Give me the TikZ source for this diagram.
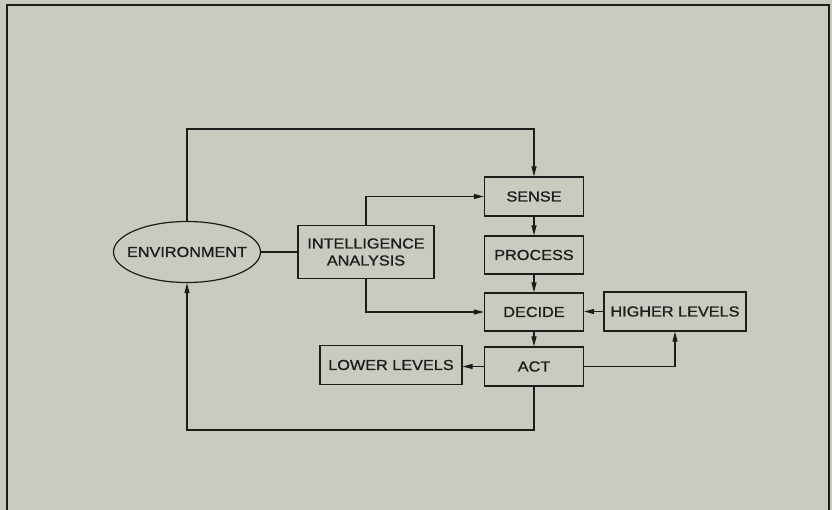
\documentclass[tikz,border=0pt]{standalone}
\usepackage{fontspec}
\setmainfont{Liberation Sans}[FakeStretch=1.12,FakeBold=1]
\usetikzlibrary{arrows.meta,shapes.geometric,calc}
\definecolor{paper}{RGB}{202,202,192}
\definecolor{ink}{RGB}{28,28,28}
\begin{document}
\begin{tikzpicture}[x=1pt,y=-1pt,
  every node/.style={font=\fontsize{14.5}{17}\selectfont, text=ink},
  box/.style={draw=ink, line width=1.2pt, rectangle, inner sep=0pt, align=center},
  oval/.style={draw=ink, line width=1.2pt, ellipse, inner sep=0pt, minimum width=147pt, minimum height=61pt},
  conn/.style={draw=ink, line width=1.1pt},
  arr/.style={conn, -{Triangle[length=10pt,width=5pt]}}]
\fill[paper] (0,0) rectangle (832,510);
\useasboundingbox (0,0) rectangle (832,510);
% frame
\draw[ink, line width=1.8pt] (7,512) -- (7,5) -- (829,5) -- (829,512);
% nodes
\node[oval] (env) at (187,252) {\makebox[0pt]{ENVIRONMENT}};
\node[box, minimum width=136pt, minimum height=53pt] (ia) at (366,252) {INTELLIGENCE\\ANALYSIS};
\node[box, minimum width=99pt, minimum height=39pt] (sense) at (534,196.5) {SENSE};
\node[box, minimum width=99pt, minimum height=38pt] (process) at (534,255) {PROCESS};
\node[box, minimum width=99pt, minimum height=38pt] (decide) at (534,312) {DECIDE};
\node[box, minimum width=99pt, minimum height=39pt] (act) at (534,366.5) {ACT};
\node[box, minimum width=142pt, minimum height=39pt] (higher) at (675,311.5) {HIGHER LEVELS};
\node[box, minimum width=142pt, minimum height=39pt] (lower) at (391,365) {LOWER LEVELS};
% helper coordinates
\coordinate (topl) at (187,129);
\coordinate (botl) at (187,430);
% connectors
\draw[arr] (env.north) -- (topl) -| (sense.north);
\draw[conn] (env.east) -- (ia.west);
\draw[arr] (ia.north) |- (sense.west);
\draw[arr] (ia.south) |- (decide.west);
\draw[arr] (sense.south) -- (process.north);
\draw[arr] (process.south) -- (decide.north);
\draw[arr] (decide.south) -- (act.north);
\draw[arr] (higher.west) -- (higher.west -| decide.east);
\draw[arr] (act.west) -- (act.west -| lower.east);
\draw[arr] (act.east) -| (higher.south);
\draw[arr] (act.south) |- (botl) -- (env.south);
\end{tikzpicture}
\end{document}
